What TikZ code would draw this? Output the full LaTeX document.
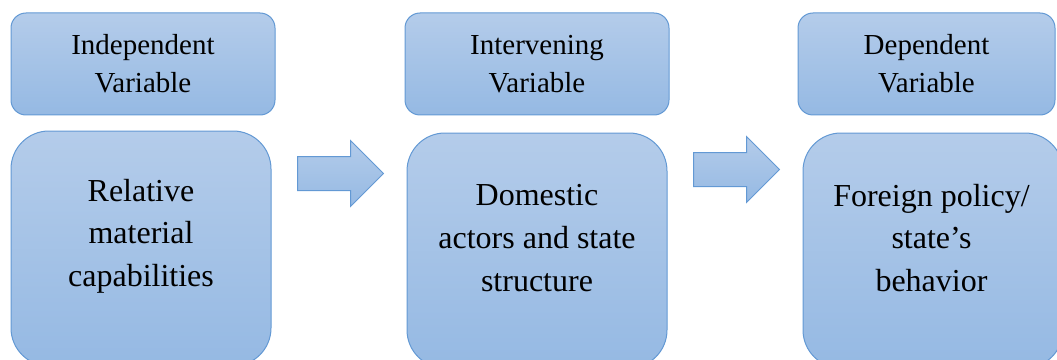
\documentclass[tikz,border=0pt]{standalone}
\usepackage{fontspec}
\setmainfont{Liberation Serif}
\usetikzlibrary{shapes.arrows}

\definecolor{boxtop}{RGB}{180,204,234}
\definecolor{boxbot}{RGB}{149,185,227}
\definecolor{boxline}{RGB}{99,153,212}

\tikzset{
  varbox/.style={draw=boxline, line width=0.75pt, top color=boxtop, bottom color=boxbot,
    rounded corners=11.25pt, minimum height=76.5pt, inner sep=0pt,
    align=center, font=\fontsize{21.75}{28.5}\selectfont},
  bigbox/.style={draw=boxline, line width=0.75pt, top color=boxtop, bottom color=boxbot,
    rounded corners=28.5pt, minimum height=176.25pt, minimum width=195pt, inner sep=0pt},
  bigtext/.style={align=center, font=\fontsize{24}{32}\selectfont},
  blockarrow/.style={single arrow, draw=boxline, line width=0.75pt, top color=boxtop,
    bottom color=boxbot, single arrow head extend=12pt, inner xsep=0pt,
    inner ysep=12.375pt, minimum height=64.5pt},
}

\begin{document}
\begin{tikzpicture}[x=0.75pt, y=-0.75pt]
    \useasboundingbox (0,0) rectangle (1057,360);
    \clip (0,0) rectangle (1057,360);
    % top row
    \node[varbox, minimum width=198pt] (indep) at (143,64) {Independent\\Variable};
    \node[varbox, minimum width=198pt] (interv) at (537,64) {Intervening\\Variable};
    \node[varbox, minimum width=192.75pt] (dep) at (926.5,64) {Dependent\\Variable};
    % bottom row
    \node[bigbox] (relmat) at (141,248.5) {};
    \node[bigbox] (domact) at (537,250.5) {};
    \node[bigbox] (forpol) at (933,250.5) {};
    \node[bigtext] (relmattxt) at (141,236) {Relative\\material\\capabilities};
    \node[bigtext] (domacttxt) at (537,238) {Domestic\\actors and state\\structure};
    \node[bigtext] (forpoltxt) at (931.5,238) {Foreign policy/\\state’s\\behavior};
    % arrows
    \node[blockarrow] (arrone) at (332,173.5) {};
    \node[blockarrow] (arrtwo) at (728,169.5) {};
\end{tikzpicture}
\end{document}
